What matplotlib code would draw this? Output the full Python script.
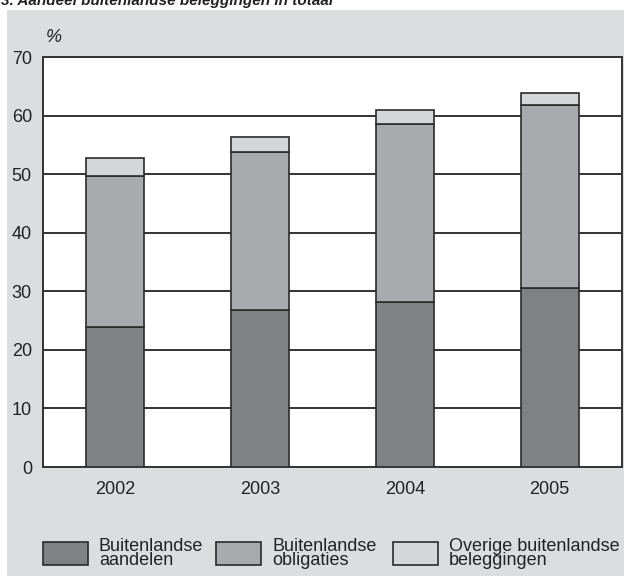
import numpy as np
import matplotlib
matplotlib.use("Agg")
import matplotlib.pyplot as plt
from matplotlib.patches import Rectangle

plt.rcParams['font.family'] = ['Liberation Sans', 'DejaVu Sans']

# data
years = ['2002', '2003', '2004', '2005']
aandelen = [23.9, 26.8, 28.2, 30.5]
obligaties = [25.8, 27.0, 30.3, 31.3]
overige = [3.0, 2.6, 2.5, 2.1]
labels = ['Buitenlandse\naandelen', 'Buitenlandse\nobligaties',
          'Overige buitenlandse\nbeleggingen']
colors = ['#808183', '#a9aaad', '#d5d6d8']
edge = '#2b2b2b'
bg = '#dcdddf'

W, H = 624, 576
fig = plt.figure(figsize=(W / 100, H / 100), dpi=100)
fig.patch.set_facecolor('white')

# grijs paneel als achtergrond-as
bg_ax = fig.add_axes([7 / W, 0, 1 - 7 / W, 1 - 10 / H], zorder=0)
bg_ax.set_facecolor(bg)
bg_ax.set_xticks([])
bg_ax.set_yticks([])
for s in bg_ax.spines.values():
    s.set_visible(False)

# titel (afgesneden bovenaan)
fig.text(1 / W, 1 - 5 / H, '3. Aandeel buitenlandse beleggingen in totaal',
         fontsize=11, fontweight='bold', fontstyle='italic', va='baseline',
         ha='left', color='#222222')

ax = fig.add_axes([43 / W, 1 - 467 / H, 579 / W, 410 / H], zorder=2)
ax.set_facecolor('white')

x = np.arange(len(years))
bottom = np.zeros(len(years))
for vals, c in zip([aandelen, obligaties, overige], colors):
    ax.bar(x, vals, width=0.4, bottom=bottom, color=c, edgecolor=edge,
           linewidth=1.2, zorder=3)
    bottom += np.array(vals)

ax.set_xlim(-0.5, 3.5)
ax.set_ylim(0, 70)
ax.set_yticks(np.arange(0, 71, 10))
ax.set_xticks(x)
ax.set_xticklabels(years)
ax.tick_params(length=0, labelsize=13, colors='#222222')
ax.tick_params(axis='x', pad=10)
ax.tick_params(axis='y', pad=8)
ax.grid(axis='y', color='#333333', linewidth=1.4, zorder=1)
for s in ax.spines.values():
    s.set_color('#333333')
    s.set_linewidth(1.4)

fig.text(46 / W, 1 - 37 / H, '%', fontsize=13, fontstyle='italic',
         va='center', ha='left', color='#222222', zorder=5)

# legenda
patch_x = [43, 216, 393]
for px, lab, c in zip(patch_x, labels, colors):
    fig.patches.append(Rectangle((px / W, 1 - 565 / H), 45 / W, 23 / H,
                                 transform=fig.transFigure, facecolor=c,
                                 edgecolor=edge, linewidth=1.2, zorder=5))
    for i, line in enumerate(lab.split('\n')):
        fig.text((px + 56) / W, 1 - (551 + 14 * i) / H, line, fontsize=13,
                 va='baseline', ha='left', color='#222222', zorder=5)

fig.savefig('out.png', dpi=100)
